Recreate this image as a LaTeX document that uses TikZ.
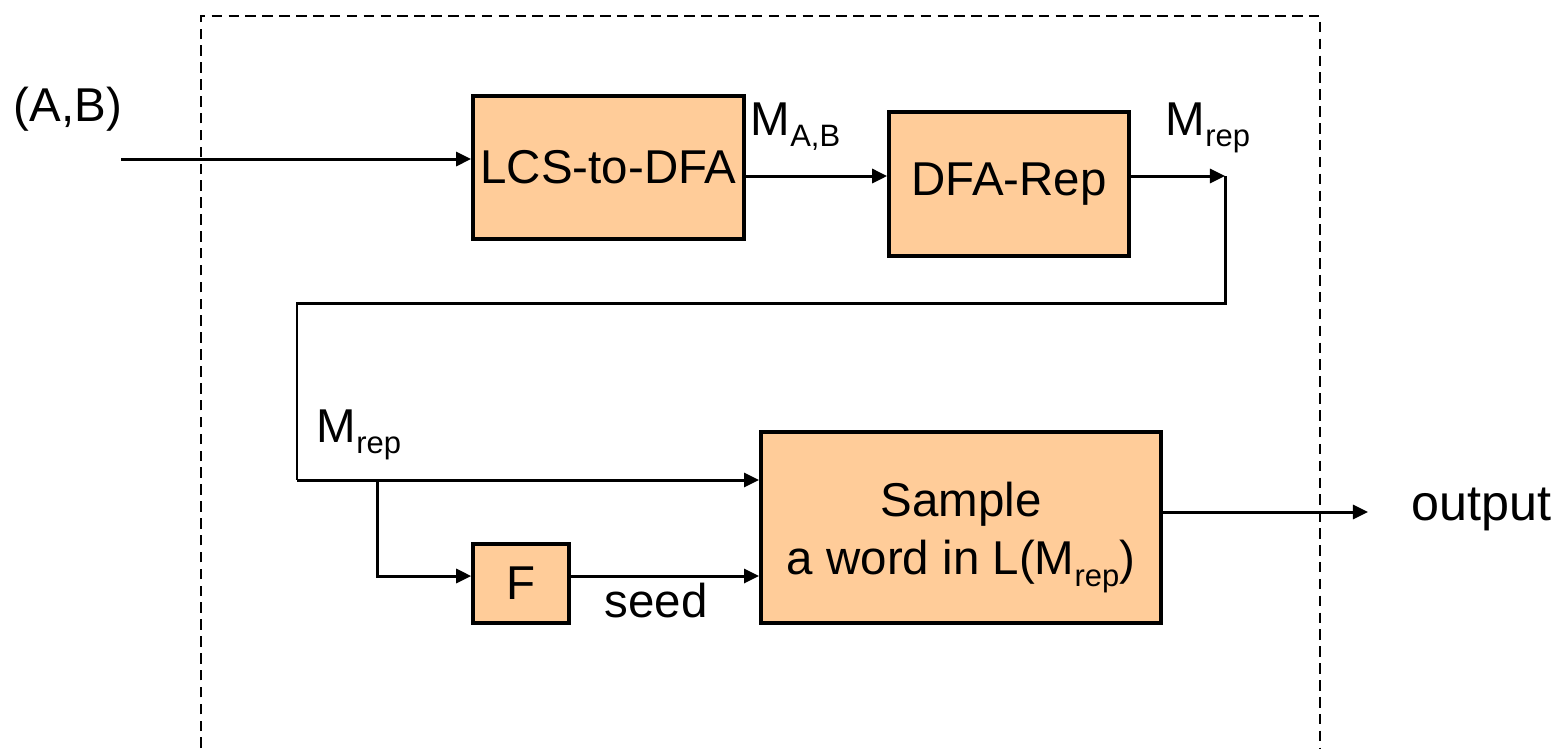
\documentclass[tikz,border=0pt]{standalone}
\usepackage{fontspec}
\setmainfont{Liberation Sans}
\usetikzlibrary{arrows.meta}
\definecolor{blockfill}{RGB}{255,204,153}
\newcommand{\lowtxt}[1]{\raisebox{-3.4pt}{\fontsize{8.8}{9}\selectfont #1}}
\tikzset{
  block/.style={draw, fill=blockfill, line width=1pt, inner sep=0pt, align=center},
  lbl/.style={inner sep=0pt, anchor=base west},
  arr/.style={-{Triangle[length=4.3pt,width=4pt]}, line width=0.85pt},
  wire/.style={line width=0.85pt}
}
\begin{document}
\begin{tikzpicture}[x=0.01cm, y=-0.01cm, font=\fontsize{13.5}{16.7}\selectfont]
    \useasboundingbox (0,0) rectangle (1558,748);
    \draw [line width=0.6pt, dash pattern=on 3pt off 1.8pt] (201,748) -- (201,16) -- (1320,16) -- (1320,748);
    \node [block, minimum width=2.71cm, minimum height=1.43cm] (lcs) at (608.5,167.5) {LCS-to-DFA};
    \node [block, minimum width=2.40cm, minimum height=1.44cm] (rep) at (1009,184) {DFA-Rep};
    \node [block, minimum width=0.96cm, minimum height=0.79cm] (f) at (521,583.5) {F};
    \node [block, minimum width=4.00cm, minimum height=1.91cm,
           label={[align=center, inner sep=0pt, yshift=-0.1cm]center:Sample\\a word in L(M\lowtxt{rep})}] (sample) at (961,527.5) {};
    \node [lbl] (ab) at (13,121) {(A,B)};
    \node [lbl] (mab) at (750,135) {M\lowtxt{A,B}};
    \node [lbl] (mrep1) at (1165,135) {M\lowtxt{rep}};
    \node [lbl] (mrep2) at (316,442) {M\lowtxt{rep}};
    \node [lbl] (seed) at (604,617) {seed};
    \node [lbl, font=\fontsize{14.3}{17}\selectfont] (output) at (1411,520) {output};
    \coordinate (in) at (121,159);
    \coordinate (c1) at (1225,176);
    \coordinate (c2) at (1225,303);
    \coordinate (c3) at (297,303);
    \coordinate (c4) at (297,480);
    \coordinate (br) at (377,480);
    \coordinate (fy) at (377,576);
    \coordinate (out) at (1368,512);
    \draw [arr] (in) -- (lcs.west |- in);
    \draw [arr] (lcs.east |- c1) -- (rep.west |- c1);
    \draw [arr] (rep.east |- c1) -- (c1);
    \draw [wire] (c1) -- (c2) -- (c3) -- (c4);
    \draw [arr] (c4) -- (sample.west |- c4);
    \draw [arr] (br) -- (fy) -- (f.west |- fy);
    \draw [arr] (f.east |- fy) -- (sample.west |- fy);
    \draw [arr] (sample.east |- out) -- (out);
\end{tikzpicture}
\end{document}
